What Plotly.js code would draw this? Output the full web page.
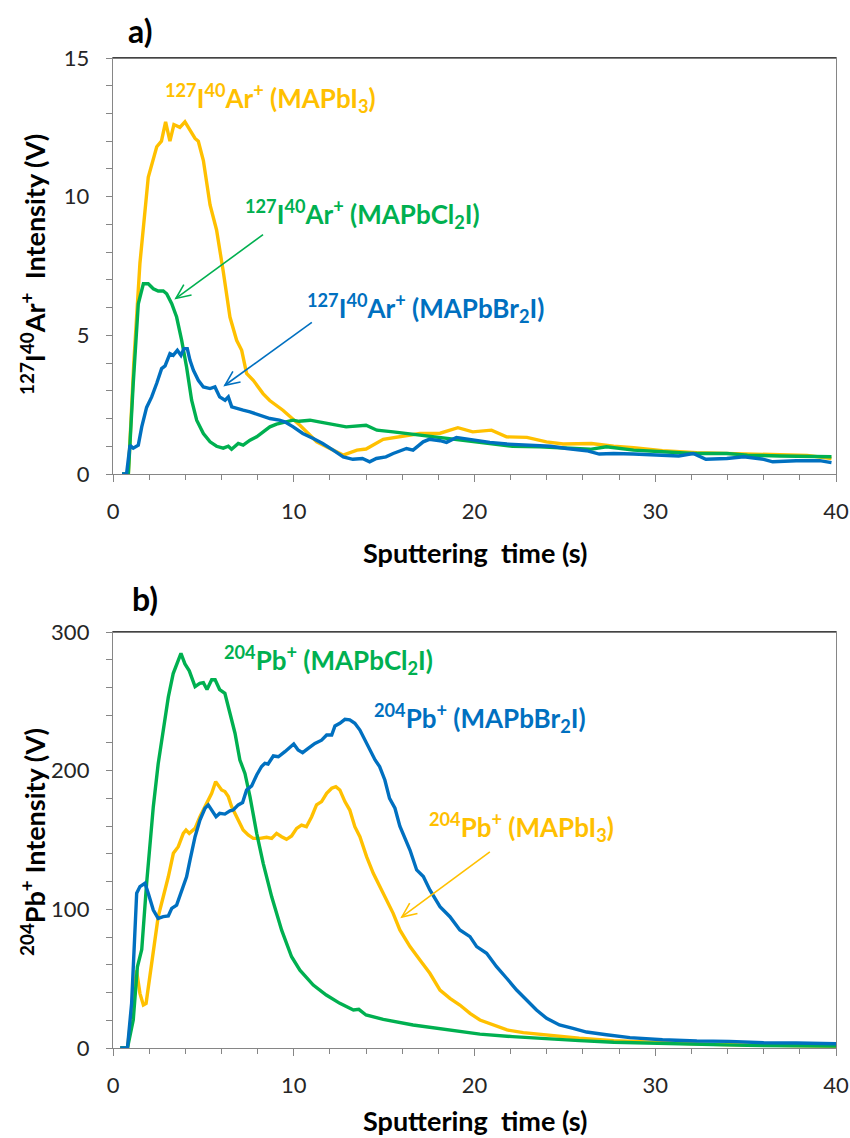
<!DOCTYPE html>
<html>
<head>
<meta charset="utf-8">
<script src="https://cdn.plot.ly/plotly-3.0.1.min.js"></script>
<style>html,body{margin:0;padding:0;background:#fff;}#chart{width:850px;height:1138px;}</style>
</head>
<body>
<div id="chart"></div>
<script>
// ---------- Data: panel a) 127I40Ar+ intensity (V) ----------
const aI_x = [0.5,0.85,1.15,1.49,1.95,2.42,2.68,2.91,3.15,3.37,3.7,3.98,4.26,4.54,4.72,5.0,5.37,5.73,6.1,6.47,6.84,7.12,7.39,7.76,8.3,8.67,9.4,10.34,11.27,12.2,12.73,13.5,14.0,14.95,15.87,16.98,18.1,19.08,19.9,20.94,21.77,22.9,23.98,24.9,26.47,27.7,28.8,30.4,32.3,33.8,35.6,36.9,38.4,39.75];
const aI_y = [0,0,4.0,7.6,10.7,11.8,12.0,12.7,12.0,12.6,12.5,12.7,12.4,12.1,12.0,11.3,9.7,8.8,7.3,5.66,4.82,4.46,3.63,3.38,2.9,2.65,2.3,1.76,1.16,0.86,0.68,0.86,0.9,1.25,1.34,1.46,1.47,1.67,1.52,1.58,1.34,1.32,1.16,1.08,1.1,1.0,0.95,0.84,0.77,0.74,0.71,0.68,0.67,0.56];

const aCl_x = [0.5,0.85,1.12,1.4,1.68,1.95,2.23,2.5,2.78,2.97,3.25,3.52,3.8,4.07,4.35,4.63,5.0,5.37,5.73,6.1,6.38,6.56,6.93,7.2,7.58,7.95,8.31,8.68,9.05,9.5,9.96,10.3,10.9,11.4,12.18,12.9,14.0,14.6,15.5,16.98,18.45,19.93,20.85,22.1,23.6,25.1,26.4,27.3,28.8,30.4,32.1,33.96,35.1,36.9,38.6,39.75];
const aCl_y = [0,0,3.27,6.14,6.86,6.86,6.68,6.6,6.6,6.5,6.14,5.66,4.82,3.86,2.66,1.94,1.46,1.16,1.0,0.93,1.0,0.89,1.1,1.04,1.22,1.34,1.52,1.7,1.8,1.88,1.94,1.9,1.94,1.88,1.8,1.7,1.76,1.58,1.52,1.4,1.28,1.19,1.1,1.0,0.98,0.92,0.89,0.98,0.86,0.8,0.74,0.74,0.68,0.65,0.62,0.62];

const aBr_x = [0.5,0.75,0.94,1.12,1.4,1.59,1.86,2.14,2.42,2.69,2.88,3.15,3.33,3.56,3.76,3.93,4.11,4.26,4.45,4.72,5.0,5.37,5.64,5.9,6.2,6.38,6.57,6.84,7.2,7.58,8.13,8.68,9.2,9.5,9.97,10.5,11.08,11.6,12.18,12.74,13.27,13.8,14.2,14.57,15.1,15.5,16.24,16.6,17.16,17.5,18.1,18.45,19.0,19.93,20.85,21.8,22.7,24.2,25.1,26.2,26.9,27.7,28.8,30.1,31.3,32.1,32.8,33.96,34.9,36.0,36.5,37.8,39.1,39.75];
const aBr_y = [0,0,1.04,0.93,1.04,1.7,2.4,2.78,3.27,3.8,3.9,4.34,4.28,4.46,4.28,4.52,4.52,4.1,3.74,3.38,3.14,3.08,3.14,2.78,2.66,2.78,2.42,2.36,2.3,2.24,2.12,2.0,1.94,1.88,1.7,1.46,1.28,1.1,0.86,0.62,0.53,0.56,0.44,0.56,0.62,0.74,0.92,0.86,1.16,1.25,1.2,1.14,1.32,1.22,1.14,1.08,1.04,1.0,0.92,0.84,0.72,0.74,0.72,0.68,0.65,0.74,0.53,0.56,0.62,0.53,0.44,0.48,0.48,0.41];

// ---------- Data: panel b) 204Pb+ intensity (V) ----------
const bI_x = [0.4,0.8,1.12,1.3,1.49,1.68,1.83,1.95,2.14,2.32,2.5,2.78,3.06,3.34,3.61,3.89,4.04,4.22,4.54,4.81,5.18,5.46,5.68,5.83,6.01,6.19,6.38,6.56,6.75,6.93,7.2,7.48,7.76,8.13,8.5,8.78,9.05,9.33,9.6,9.88,10.16,10.43,10.7,10.99,11.26,11.54,11.82,12.1,12.33,12.55,12.83,13.1,13.38,13.66,14.03,14.4,14.75,15.14,15.5,15.87,16.43,16.98,17.53,18.09,18.64,19.19,19.75,20.3,21.0,21.8,22.7,24.0,25.8,27.7,29.5,31.4,33.2,35.1,36.9,40];
const bI_y = [0,0,35,56,39.4,31,32.2,44.2,61,77.9,94.7,109.1,123.5,140.4,145.2,154.8,157.2,154.8,158.4,166.8,176.5,183.7,192.1,189.7,186.1,184.9,181.3,174.1,169.2,164.4,157.2,153.6,151.2,151.2,152,151.2,154.8,152.4,150.5,152.9,158.4,160.8,159.6,166.8,175.3,177.7,183.7,187.3,188.5,186.1,177.7,171.6,159.6,152.4,138,126,117,106.7,97.1,85.1,73.1,63.5,53.9,41.8,35.8,31,25,20.2,16.6,13,11.1,9.4,7,5.3,4.1,3.4,2.6,2.2,1.7,1.2];

const bCl_x = [0.4,0.8,1.12,1.35,1.59,1.86,2.23,2.5,2.78,3.06,3.33,3.61,3.76,3.98,4.22,4.54,4.8,5.0,5.2,5.46,5.65,5.9,6.19,6.47,6.75,7.02,7.3,7.58,7.95,8.31,8.78,9.33,9.88,10.34,11.08,11.8,12.55,13.3,13.6,14.0,14.95,16.6,18.45,20.3,22.1,24.0,25.8,27.7,29.5,31.4,33.2,35.1,36.9,38.8,40];
const bCl_y = [0,0,20.2,58.6,71,118.8,174,205,229,253,270,278.6,284.6,277,272,260.6,263,263.5,258.5,265.6,265.6,258.5,255.8,241.4,227,207.7,198,181.2,154.8,133.2,109,85,65.8,56.1,45.4,38.2,32.2,27.4,27.9,23.8,20.7,16.6,13,10,8.2,6.5,5.3,4.1,3.4,2.9,2.4,1.9,1.7,1.4,1.4];

const bBr_x = [0.4,0.8,1.03,1.22,1.31,1.49,1.77,1.95,2.23,2.5,2.78,3.06,3.25,3.52,3.8,4.07,4.26,4.54,4.81,5.09,5.27,5.46,5.7,5.9,6.19,6.47,6.65,6.93,7.17,7.39,7.67,7.95,8.22,8.4,8.58,8.87,9.15,9.51,9.88,10.0,10.24,10.49,10.8,11.17,11.54,11.82,12.1,12.28,12.55,12.83,13.1,13.38,13.66,13.94,14.2,14.5,14.75,15.04,15.3,15.6,15.87,16.43,16.8,17.17,17.53,18.09,18.64,19.19,19.75,20.12,20.67,21.22,21.78,22.33,22.88,23.43,23.99,24.7,25.45,26.2,27.3,28.6,30.4,32.3,34.1,36.0,37.8,40];
const bBr_y = [0,0,32.2,92.3,111.6,116.4,118.8,111.6,99.5,93.5,94.7,95.2,100.7,103,114,123.5,135.5,152.4,164.4,172.9,175.3,171.7,166.8,169.2,168.7,171,171.6,175.3,177,186,189,196.9,203,205.3,204.8,210.6,210,213.7,217.3,219.2,214.9,213,216.1,219.7,222,225.7,225.7,232.2,234.2,237,236.6,234.2,229.3,222,215,207.7,203,193.3,180,172.9,160,142.8,128.4,123.6,114,101.9,94.7,85.1,80.3,73.1,68.3,58.6,50.3,41.8,34.6,27.4,21.4,16.6,14.2,11.5,9.6,7.5,6.0,5.0,4.8,3.8,3.6,3.1];

// ---------- Labels ----------
const xTitle = "<b>Sputtering\u00a0 time (s)</b>";
const yTitleA = "<b><sup>127</sup>I<sup>40</sup>Ar<sup>+</sup>\u00a0 Intensity (V)</b>";
const yTitleB = "<b><sup>204</sup>Pb<sup>+</sup> Intensity (V)</b>";
const labA_I  = "<b><sup>127</sup>I<sup>40</sup>Ar<sup>+</sup> (MAPbI<sub>3</sub>)</b>";
const labA_Cl = "<b><sup>127</sup>I<sup>40</sup>Ar<sup>+</sup> (MAPbCl<sub>2</sub>I)</b>";
const labA_Br = "<b><sup>127</sup>I<sup>40</sup>Ar<sup>+</sup> (MAPbBr<sub>2</sub>I)</b>";
const labB_Cl = "<b><sup>204</sup>Pb<sup>+</sup> (MAPbCl<sub>2</sub>I)</b>";
const labB_Br = "<b><sup>204</sup>Pb<sup>+</sup> (MAPbBr<sub>2</sub>I)</b>";
const labB_I  = "<b><sup>204</sup>Pb<sup>+</sup> (MAPbI<sub>3</sub>)</b>";

const YEL = "#FFC000", GRN = "#00B050", BLU = "#0070C0";
const FONT = "Lato, 'Open Sans', sans-serif";

const W = 850, H = 1138, ML = 113, MR = 14;
const plotW = W - ML - MR;
const domA = [1 - 474/H, 1 - 58/H];
const domB = [1 - 1048/H, 1 - 632/H];
const xRange = [0, 40], yRangeA = [0, 15], yRangeB = [0, 300];

function line(x, y, color, xa, ya) {
  return {x: x, y: y, type: "scatter", mode: "lines", xaxis: xa, yaxis: ya,
          line: {color: color, width: 3.4}, hoverinfo: "skip"};
}

const traces = [
  line(aI_x, aI_y, YEL, "x", "y"),
  line(aCl_x, aCl_y, GRN, "x", "y"),
  line(aBr_x, aBr_y, BLU, "x", "y"),
  line(bI_x, bI_y, YEL, "x2", "y2"),
  line(bCl_x, bCl_y, GRN, "x2", "y2"),
  line(bBr_x, bBr_y, BLU, "x2", "y2")
];

// arrow with open "V" head, drawn in data coordinates
function arrow(xref, yref, dom, yr, tail, head, color) {
  const pxX = plotW / (xRange[1] - xRange[0]);
  const pxY = (dom[1] - dom[0]) * H / (yr[1] - yr[0]);
  const dx = (head[0] - tail[0]) * pxX, dy = -(head[1] - tail[1]) * pxY;
  const ang = Math.atan2(dy, dx), L = 16, sp = 0.42;
  const wing = s => [head[0] - L * Math.cos(ang + s) / pxX, head[1] + L * Math.sin(ang + s) / pxY];
  const w1 = wing(sp), w2 = wing(-sp);
  return [
    {type: "line", xref: xref, yref: yref, x0: tail[0], y0: tail[1], x1: head[0], y1: head[1],
     line: {color: color, width: 1.6}},
    {type: "path", xref: xref, yref: yref,
     path: `M ${w1[0]},${w1[1]} L ${head[0]},${head[1]} L ${w2[0]},${w2[1]}`,
     line: {color: color, width: 1.6}}
  ];
}

const shapes = [].concat(
  arrow("x", "y", domA, yRangeA, [8.3, 8.63], [3.48, 6.33], GRN),
  arrow("x", "y", domA, yRangeA, [11.0, 5.47], [6.19, 3.2], BLU),
  arrow("x2", "y2", domB, yRangeB, [20.85, 141.4], [15.98, 94.5], YEL),
  [
    {type: "line", xref: "x domain", yref: "y domain", x0: 0, x1: 1, y0: 1, y1: 1, line: {color: "#000", width: 1.2}},
    {type: "line", xref: "x2 domain", yref: "y2 domain", x0: 0, x1: 1, y0: 1, y1: 1, line: {color: "#000", width: 1.2}}
  ]
);

function ann(xref, yref, x, y, text, color, size) {
  return {xref: xref, yref: yref, x: x, y: y, text: text, showarrow: false,
          xanchor: "left", yanchor: "middle", font: {family: FONT, size: size || 26, color: color}};
}

const annotations = [
  ann("x", "y", 2.77, 13.56, labA_I, YEL),
  ann("x", "y", 7.19, 9.39, labA_Cl, GRN),
  ann("x", "y", 10.62, 5.97, labA_Br, BLU),
  ann("x2", "y2", 6.03, 279.8, labB_Cl, GRN),
  ann("x2", "y2", 14.32, 238, labB_Br, BLU),
  ann("x2", "y2", 17.37, 159.4, labB_I, YEL),
  {xref: "paper", yref: "paper", x: (140 - ML) / plotW, y: 1 - 30 / H, text: "<b>a)</b>", showarrow: false,
   xanchor: "center", yanchor: "middle", font: {family: FONT, size: 32, color: "#000"}},
  {xref: "paper", yref: "paper", x: (145 - ML) / plotW, y: 1 - 598 / H, text: "<b>b)</b>", showarrow: false,
   xanchor: "center", yanchor: "middle", font: {family: FONT, size: 32, color: "#000"}},
  {xref: "paper", yref: "paper", x: (475 - ML) / plotW, y: 1 - 552 / H, text: xTitle, showarrow: false,
   xanchor: "center", yanchor: "middle", font: {family: FONT, size: 27, color: "#000"}},
  {xref: "paper", yref: "paper", x: (475 - ML) / plotW, y: 1 - 1120 / H, text: xTitle, showarrow: false,
   xanchor: "center", yanchor: "middle", font: {family: FONT, size: 27, color: "#000"}},
  {xref: "paper", yref: "paper", x: (33 - ML) / plotW, y: 1 - 265 / H, text: yTitleA, showarrow: false,
   textangle: -90, xanchor: "center", yanchor: "middle", font: {family: FONT, size: 27, color: "#000"}},
  {xref: "paper", yref: "paper", x: (33 - ML) / plotW, y: 1 - 842 / H, text: yTitleB, showarrow: false,
   textangle: -90, xanchor: "center", yanchor: "middle", font: {family: FONT, size: 27, color: "#000"}}
];

const AXC = "#868686";
const tickfont = {family: FONT, size: 22, color: "#262626"};
function xAxis(anchor) {
  return {domain: [0, 1], anchor: anchor, range: xRange, dtick: 10, tick0: 0,
          showline: true, linecolor: AXC, linewidth: 1.2, mirror: true,
          ticks: "outside", ticklen: 7, tickcolor: AXC, tickwidth: 1,
          minor: {dtick: 2, tick0: 0, ticks: "outside", ticklen: 5, tickcolor: AXC, tickwidth: 1, showgrid: false},
          showgrid: false, zeroline: false, tickfont: tickfont, ticklabelstandoff: 10, fixedrange: true};
}
function yAxis(anchor, dom, range, dtick, mdtick) {
  return {domain: dom, anchor: anchor, range: range, dtick: dtick, tick0: 0,
          showline: true, linecolor: AXC, linewidth: 1.2, mirror: true,
          ticks: "outside", ticklen: 6, tickcolor: AXC, tickwidth: 1,
          minor: {dtick: mdtick, tick0: 0, ticks: "outside", ticklen: 6, tickcolor: AXC, tickwidth: 1, showgrid: false},
          showgrid: false, zeroline: false, tickfont: tickfont, ticklabelstandoff: 12, fixedrange: true};
}

const layout = {
  width: W, height: H,
  margin: {l: ML, r: MR, t: 0, b: 0},
  paper_bgcolor: "#fff", plot_bgcolor: "#fff",
  showlegend: false,
  xaxis: xAxis("y"),
  yaxis: yAxis("x", domA, yRangeA, 5, 1),
  xaxis2: xAxis("y2"),
  yaxis2: yAxis("x2", domB, yRangeB, 100, 20),
  shapes: shapes,
  annotations: annotations
};

Plotly.newPlot("chart", traces, layout, {displayModeBar: false, staticPlot: true});
</script>
</body>
</html>
